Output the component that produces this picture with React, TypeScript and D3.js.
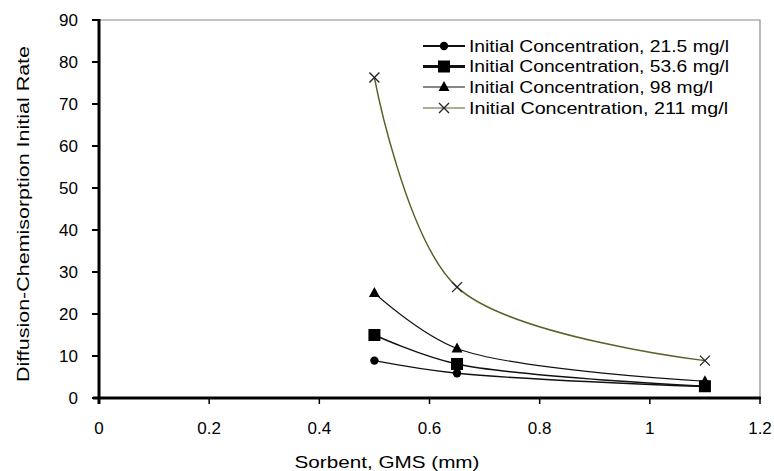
import React from "react";
import * as d3 from "d3";

// Sorbent particle size (mm)
const sorbentSizes = [0.5, 0.65, 1.1];

// Diffusion-chemisorption initial rate for each initial concentration
const rate21 = [8.9, 5.9, 2.7];
const rate53 = [15, 8.1, 2.8];
const rate98 = [25, 11.8, 4];
const rate211 = [76.3, 26.4, 8.9];

const seriesLabels = [
  "Initial Concentration, 21.5 mg/l",
  "Initial Concentration, 53.6 mg/l",
  "Initial Concentration, 98 mg/l",
  "Initial Concentration, 211 mg/l",
];

const xTicks = [0, 0.2, 0.4, 0.6, 0.8, 1, 1.2];
const yTicks = [0, 10, 20, 30, 40, 50, 60, 70, 80, 90];

const W = 774;
const H = 471;
const left = 99;
const right = 760;
const top = 20;
const bottom = 398;

const FONT = "'Liberation Sans', Arial, sans-serif";

type Marker = "circle" | "square" | "triangle" | "cross";

function MarkerShape({ kind, x, y }: { kind: Marker; x: number; y: number }) {
  if (kind === "circle") return <circle cx={x} cy={y} r={4.2} fill="#000" />;
  if (kind === "square")
    return <rect x={x - 6} y={y - 6} width={12} height={12} fill="#000" />;
  if (kind === "triangle")
    return (
      <path
        d={`M${x},${y - 6}L${x + 5.5},${y + 4}L${x - 5.5},${y + 4}Z`}
        fill="#000"
      />
    );
  return (
    <path
      d={`M${x - 5},${y - 5}L${x + 5},${y + 5}M${x - 5},${y + 5}L${x + 5},${y - 5}`}
      stroke="#222"
      strokeWidth={1.3}
      fill="none"
    />
  );
}

export default function App() {
  const x = d3.scaleLinear().domain([0, 1.2]).range([left, right]);
  const y = d3.scaleLinear().domain([0, 90]).range([bottom, top]);

  const series = [
    { values: rate21, marker: "circle" as Marker, color: "#111", width: 1.4, legendWidth: 2 },
    { values: rate53, marker: "square" as Marker, color: "#111", width: 1.4, legendWidth: 3 },
    { values: rate98, marker: "triangle" as Marker, color: "#111", width: 1.1, legendWidth: 1.2 },
    { values: rate211, marker: "cross" as Marker, color: "#5e5e28", width: 1.5, legendWidth: 1.2 },
  ];

  const line = d3
    .line<number>()
    .x((_, i) => x(sorbentSizes[i]))
    .y((d) => y(d))
    .curve(d3.curveCatmullRom.alpha(0.5));

  const legendRowsY = [46, 66.5, 87, 108];
  const legendTextLen = [260, 260, 244, 259];

  return (
    <svg
      width={W}
      height={H}
      style={{ position: "absolute", left: 0, top: 0, background: "#fff" }}
      fontFamily={FONT}
    >
      <rect width={W} height={H} fill="#fff" />

      {/* plot area frame: grey top and right edges */}
      <path
        d={`M${left},${top}H${right}V${bottom}`}
        stroke="#8a8a8a"
        strokeWidth={1.2}
        fill="none"
      />

      {/* series curves */}
      {series.map((s, i) => (
        <path
          key={`l${i}`}
          d={line(s.values) ?? ""}
          stroke={s.color}
          strokeWidth={s.width}
          fill="none"
        />
      ))}

      {/* series markers */}
      {series.map((s, i) =>
        s.values.map((v, j) => (
          <MarkerShape key={`m${i}-${j}`} kind={s.marker} x={x(sorbentSizes[j])} y={y(v)} />
        ))
      )}

      {/* y axis */}
      <line x1={left} x2={left} y1={top - 1} y2={bottom + 6} stroke="#000" strokeWidth={3} />
      {yTicks.map((t) => (
        <g key={`yt${t}`}>
          <line x1={left - 7} x2={left} y1={y(t)} y2={y(t)} stroke="#000" strokeWidth={2} />
          <text
            x={78}
            y={y(t)}
            textAnchor="end"
            dominantBaseline="central"
            fontSize={17}
            fill="#000"
          >
            {t}
          </text>
        </g>
      ))}

      {/* x axis */}
      <line x1={left - 6} x2={right + 1} y1={bottom} y2={bottom} stroke="#000" strokeWidth={3} />
      {xTicks.map((t) => (
        <g key={`xt${t}`}>
          <line x1={x(t)} x2={x(t)} y1={bottom} y2={bottom + 6} stroke="#000" strokeWidth={1.5} />
          <text
            x={x(t)}
            y={428}
            textAnchor="middle"
            dominantBaseline="central"
            fontSize={17}
            fill="#000"
          >
            {t}
          </text>
        </g>
      ))}

      {/* axis titles */}
      <text
        x={387}
        y={462}
        textAnchor="middle"
        dominantBaseline="central"
        fontSize={17}
        textLength={185}
        lengthAdjust="spacingAndGlyphs"
        fill="#000"
      >
        Sorbent, GMS (mm)
      </text>
      <text
        transform={`translate(23,214) rotate(-90)`}
        textAnchor="middle"
        dominantBaseline="central"
        fontSize={17}
        textLength={336}
        lengthAdjust="spacingAndGlyphs"
        fill="#000"
      >
        Diffusion-Chemisorption Initial Rate
      </text>

      {/* legend */}
      {series.map((s, i) => {
        const ly = legendRowsY[i];
        return (
          <g key={`lg${i}`}>
            <line
              x1={423}
              x2={465}
              y1={ly}
              y2={ly}
              stroke={s.color}
              strokeWidth={s.legendWidth}
            />
            <MarkerShape kind={s.marker} x={444} y={ly} />
            <text
              x={469}
              y={ly}
              dominantBaseline="central"
              fontSize={16}
              textLength={legendTextLen[i]}
              lengthAdjust="spacingAndGlyphs"
              fill="#000"
            >
              {seriesLabels[i]}
            </text>
          </g>
        );
      })}
    </svg>
  );
}
